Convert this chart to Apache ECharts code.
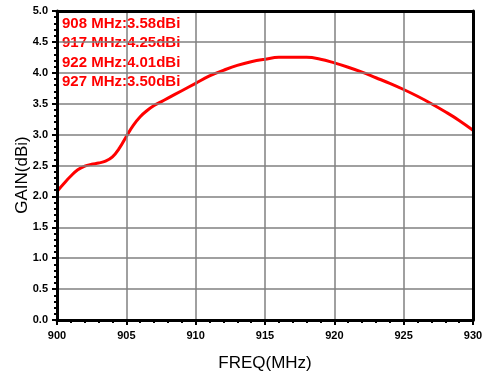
<!DOCTYPE html>
<html><head><meta charset="utf-8">
<script src="https://cdn.jsdelivr.net/npm/echarts@6/dist/echarts.min.js"></script>
<style>html,body{margin:0;padding:0;background:#fff}#c{width:487px;height:371px}</style>
</head><body><div id="c"></div>
<script>
const freq = [900,900.5,901,901.5,902,902.5,903,903.5,904,904.5,905,905.5,906,906.5,907,907.5,908,909,910,911,912,913,914,915,916,917,918,919,920,921,922,923,924,925,926,927,928,929,930];
const gain = [2.08,2.21,2.33,2.43,2.49,2.52,2.54,2.57,2.64,2.78,2.97,3.15,3.29,3.39,3.47,3.53,3.59,3.71,3.83,3.95,4.04,4.12,4.18,4.22,4.25,4.25,4.25,4.22,4.16,4.09,4.01,3.92,3.83,3.73,3.62,3.50,3.37,3.23,3.07];
const notes = ["908 MHz:3.58dBi","917 MHz:4.25dBi","922 MHz:4.01dBi","927 MHz:3.50dBi"];
const xTitle = "FREQ(MHz)";
const yTitle = "GAIN(dBi)";

const FONT = '"Liberation Sans", Arial, sans-serif';
const chart = echarts.init(document.getElementById('c'), null, {renderer:'canvas'});
const lab = {color:'#000', fontFamily:FONT, fontWeight:'bold', fontSize:11};
const frameAxis = {show:true, axisLine:{show:true,onZero:false,lineStyle:{color:'#000',width:3}},
  axisTick:{show:false}, axisLabel:{show:false}, splitLine:{show:false}, minorTick:{show:false}, z:10};
chart.setOption({
  animation:false,
  backgroundColor:'#fff',
  grid:{left:57,right:14,top:11,bottom:51,show:false,containLabel:false,outerBoundsMode:'none'},
  xAxis:[{type:'value',min:900,max:930,interval:5,
    name:xTitle,nameLocation:'middle',nameGap:35,
    nameTextStyle:{fontFamily:FONT,fontSize:17,color:'#000'},
    axisLine:{show:true,onZero:false,lineStyle:{color:'#000',width:3}},
    axisTick:{show:true,inside:false,length:5,lineStyle:{color:'#000',width:2}},
    minorTick:{show:true,splitNumber:5,length:3,lineStyle:{color:'#000',width:2}},
    axisLabel:Object.assign({margin:10},lab),
    splitLine:{show:true,lineStyle:{color:'#808080',width:1.5}},z:10
  }, Object.assign({type:'value',min:900,max:930,position:'top'},frameAxis)],
  yAxis:[{type:'value',min:0,max:5,interval:0.5,
    axisLine:{show:true,onZero:false,lineStyle:{color:'#000',width:3}},
    axisTick:{show:true,inside:false,length:5,lineStyle:{color:'#000',width:2}},
    minorTick:{show:true,splitNumber:5,length:3,lineStyle:{color:'#000',width:2}},
    axisLabel:Object.assign({margin:9,formatter:v=>v.toFixed(1)},lab),
    splitLine:{show:true,lineStyle:{color:'#808080',width:1.5}},z:10
  }, Object.assign({type:'value',min:0,max:5,position:'right'},frameAxis)],
  series:[{type:'line',data:freq.map((f,i)=>[f,gain[i]]),smooth:0.4,symbol:'none',
    lineStyle:{color:'#ff0000',width:3},z:5}],
  graphic:[{type:'text',x:22,y:175,rotation:Math.PI/2,z:10,
      style:{text:yTitle,fill:'#000',font:'17px '+FONT,textAlign:'center',textVerticalAlign:'middle'}}]
    .concat(notes.map((t,i)=>({type:'text',x:62,y:24+i*19.3,z:10,
      style:{text:t,fill:'#ff0000',font:'bold 15px '+FONT,textVerticalAlign:'middle'}})))
});
</script></body></html>
